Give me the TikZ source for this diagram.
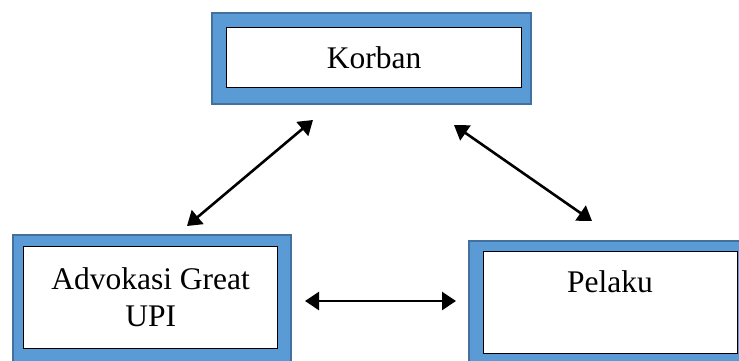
\documentclass[tikz,border=0pt]{standalone}
\usepackage{fontspec}
\setmainfont{Liberation Serif}
\usetikzlibrary{arrows.meta}
\definecolor{boxblue}{HTML}{5B9BD5}
\definecolor{boxedge}{HTML}{41719C}
\tikzset{
  outerbox/.style={draw=boxedge, fill=boxblue, line width=1.6pt, inner sep=0pt, anchor=north west},
  innerbox/.style={draw=black, fill=white, line width=1.3pt, inner sep=0pt, anchor=north west,
    font=\fontsize{31.5}{37}\selectfont, align=center},
  labeltext/.style={font=\fontsize{31.5}{37}\selectfont, inner sep=0pt},
  biarrow/.style={line width=2.6pt, {Triangle[length=14pt,width=18pt]}-{Triangle[length=14pt,width=18pt]}}
}
\begin{document}
\begin{tikzpicture}[x=1pt,y=1pt]
\clip (0,0) rectangle (739,-360);
\fill[white] (0,0) rectangle (739,-360);
% Korban
\node[outerbox, minimum width=319pt, minimum height=91pt] (korbanO) at (211,-12) {};
\node[innerbox, minimum width=295pt, minimum height=60pt] (korban) at (226,-27) {Korban};
% Advokasi
\node[outerbox, minimum width=278pt, minimum height=130pt] (advO) at (12,-234) {};
\node[innerbox, minimum width=254pt, minimum height=102pt] (adv) at (23,-246) {Advokasi Great\\UPI};
% Pelaku
\node[outerbox, minimum width=280pt, minimum height=125pt] (pelO) at (468,-240) {};
\node[innerbox, minimum width=254pt, minimum height=102pt] (pel) at (483,-251) {};
\node[labeltext] (peltext) at (610,-282) {Pelaku};
% arrow end points
\coordinate (a1) at (187,-226);
\coordinate (a2) at (313,-120);
\coordinate (b1) at (454,-125);
\coordinate (b2) at (592,-221);
\coordinate (c1) at (305,-301);
\coordinate (c2) at (456,-301);
\draw[biarrow] (a1) -- (a2);
\draw[biarrow] (b1) -- (b2);
\draw[biarrow] (c1) -- (c2);
\end{tikzpicture}
\end{document}
